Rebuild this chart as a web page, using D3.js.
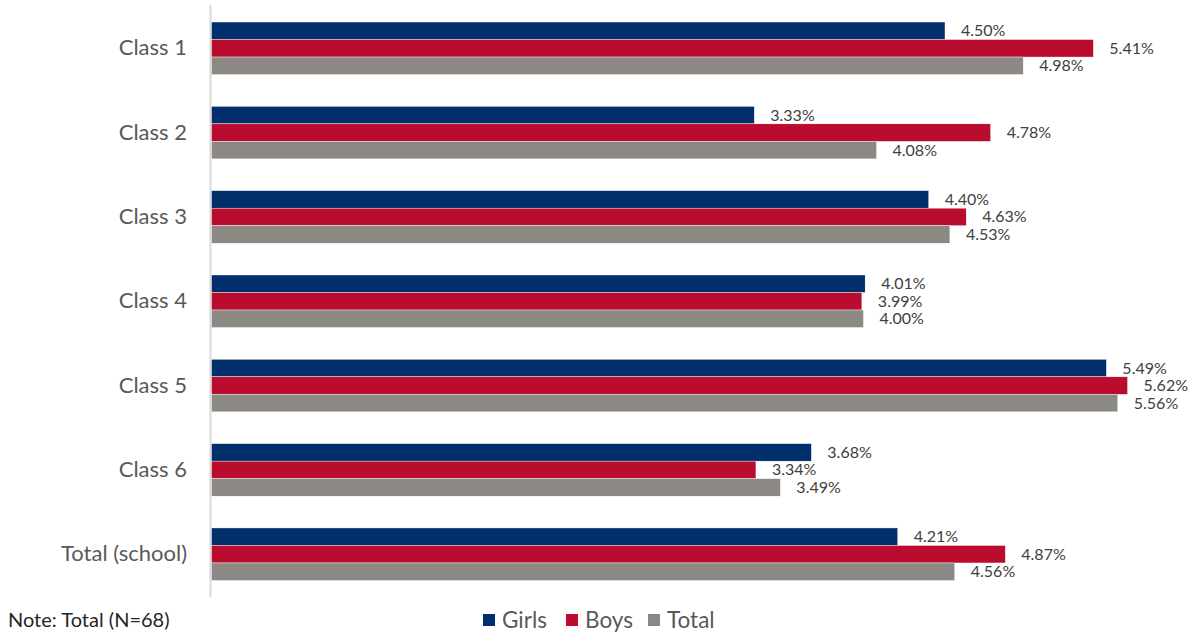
<!DOCTYPE html>
<html><head><meta charset="utf-8">
<script src="https://cdn.jsdelivr.net/npm/d3@7"></script>
<style>body{margin:0;background:#fff}svg{display:block}</style>
</head><body>
<script>
const categories = ["Class 1","Class 2","Class 3","Class 4","Class 5","Class 6","Total (school)"];
const seriesNames = ["Girls","Boys","Total"];
const girls = [4.50,3.33,4.40,4.01,5.49,3.68,4.21];
const boys  = [5.41,4.78,4.63,3.99,5.62,3.34,4.87];
const total = [4.98,4.08,4.53,4.00,5.56,3.49,4.56];
const colors = ["#002F6C","#BA0C2F","#8C8984"];
const series = [girls, boys, total];

const W = 1195, H = 635;
const font = "Lato, 'Open Sans', sans-serif";
const svg = d3.select("body").append("svg").attr("width", W).attr("height", H);

const x0 = 211.5;
const x = d3.scaleLinear().domain([0, 6]).range([x0, x0 + 6*163]);
const y = d3.scaleBand().domain(categories).range([6, 596.5]).paddingInner(0.377).paddingOuter(0.19);
const yi = d3.scaleBand().domain(seriesNames).range([0, y.bandwidth()]);

// axis line
svg.append("line").attr("x1", 210.5).attr("x2", 210.5).attr("y1", 5).attr("y2", 597)
  .attr("stroke", "#d9d9d9").attr("stroke-width", 2);

// category labels
const yAxis = d3.axisLeft(y).tickSize(0).tickPadding(0);
const ga = svg.append("g").attr("transform", "translate(187,0)").call(yAxis);
ga.select(".domain").remove();
ga.selectAll("text").attr("font-family", font).attr("font-size", 22).attr("fill", "#595959");

categories.forEach((c, ci) => {
  const g = svg.append("g").attr("transform", `translate(0,${y(c)})`);
  seriesNames.forEach((s, si) => {
    const v = series[si][ci];
    g.append("rect").attr("x", x(0)).attr("y", yi(s)).attr("width", x(v) - x(0)).attr("height", yi.bandwidth())
      .attr("fill", colors[si]).attr("stroke", "#fff").attr("stroke-width", 0.4);
    g.append("text").attr("x", x(v) + 16).attr("y", yi(s) + yi.bandwidth()/2 + 1.5)
      .attr("dominant-baseline", "middle").attr("font-family", font).attr("font-size", 16)
      .attr("fill", "#404040").text(v.toFixed(2) + "%");
  });
});

// legend
const legendX = [483, 566, 648];
seriesNames.forEach((s, i) => {
  svg.append("rect").attr("x", legendX[i]).attr("y", 614).attr("width", 12).attr("height", 12).attr("fill", colors[i]);
  svg.append("text").attr("x", legendX[i] + 19).attr("y", 627.5).attr("font-family", font).attr("font-size", 22.5)
    .attr("fill", "#595959").text(s);
});

// note
svg.append("text").attr("x", 8).attr("y", 627).attr("font-family", font).attr("font-size", 20)
  .attr("fill", "#262626").text("Note: Total (N=68)");
</script>
</body></html>
